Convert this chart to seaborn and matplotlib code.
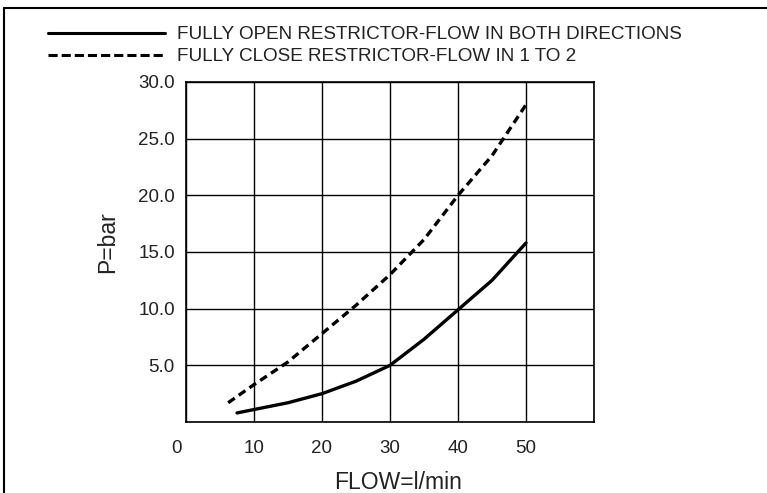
import pandas as pd
import matplotlib.pyplot as plt
import matplotlib.transforms as mtransforms
from matplotlib.lines import Line2D
import seaborn as sns

# curve values
open_flow = [7.5, 10, 15, 20, 25, 30, 35, 40, 45, 50]
open_p = [0.8, 1.1, 1.7, 2.5, 3.6, 5.0, 7.3, 9.9, 12.5, 15.8]
close_flow = [6.2, 10, 15, 20, 25, 30, 35, 40, 45, 50]
close_p = [1.7, 3.3, 5.3, 7.8, 10.3, 13.0, 16.1, 20.0, 23.5, 28.0]

labels = ["FULLY OPEN RESTRICTOR-FLOW IN BOTH DIRECTIONS",
          "FULLY CLOSE RESTRICTOR-FLOW IN 1 TO 2"]
x_ticks = [0, 10, 20, 30, 40, 50]
y_ticks = [5, 10, 15, 20, 25, 30]

df = pd.concat([
    pd.DataFrame({"flow": open_flow, "p": open_p, "curve": labels[0]}),
    pd.DataFrame({"flow": close_flow, "p": close_p, "curve": labels[1]}),
])

sns.set_style("white")
plt.rcParams['font.family'] = ['Liberation Sans', 'DejaVu Sans']

fig = plt.figure(figsize=(7.67, 4.93), dpi=100)
ax = fig.add_axes([186 / 767, 71 / 493, 408 / 767, 340 / 493])

sns.lineplot(data=df, x="flow", y="p", style="curve", color="black",
             dashes={labels[0]: "", labels[1]: (2.4, 1.5)},
             linewidth=2.4, sort=False, legend=False, ax=ax)

ax.set_xlim(0, 60)
ax.set_ylim(0, 30)
ax.set_xticks(x_ticks + [60])
ax.set_xticklabels([str(v) for v in x_ticks] + [""])
ax.set_yticks([0] + y_ticks)
ax.set_yticklabels([""] + ["%.1f" % v for v in y_ticks])
ax.grid(True, color="black", linewidth=1.0)
ax.tick_params(length=0, labelsize=13.5, colors="#222222")
ax.tick_params(axis="x", pad=13)
ax.tick_params(axis="y", pad=8)
for s in ax.spines.values():
    s.set_color("black")
    s.set_linewidth(1.2)

# shift "0" label left like the original
zero = ax.get_xticklabels()[0]
zero.set_transform(zero.get_transform() +
                   mtransforms.ScaledTranslation(-0.10, 0, fig.dpi_scale_trans))

ax.set_xlabel("FLOW=l/min", fontsize=16.5, color="#222222")
ax.set_ylabel("P=bar", fontsize=16.5, color="#222222")
ax.xaxis.set_label_coords(0.52, -0.145)
ax.yaxis.set_label_coords(-0.165, 0.53)

handles = [Line2D([], [], color="black", linewidth=2.2),
           Line2D([], [], color="black", linewidth=2.2, dashes=(3.0, 1.3))]
fig.legend(handles, labels, loc="upper left", bbox_to_anchor=(48 / 767, 1 - 26 / 493),
           frameon=False, fontsize=13.6, handlelength=6.2, handletextpad=0.63,
           labelspacing=0.25, borderpad=0, borderaxespad=0, labelcolor="#222222")

# border lines at top and left
fig.add_artist(Line2D([4 / 767, 1], [1 - 8 / 493, 1 - 8 / 493], color="black",
                      linewidth=1.5, transform=fig.transFigure))
fig.add_artist(Line2D([4 / 767, 4 / 767], [0, 1 - 8 / 493], color="black",
                      linewidth=1.5, transform=fig.transFigure))

plt.savefig("out.png", dpi=100)
